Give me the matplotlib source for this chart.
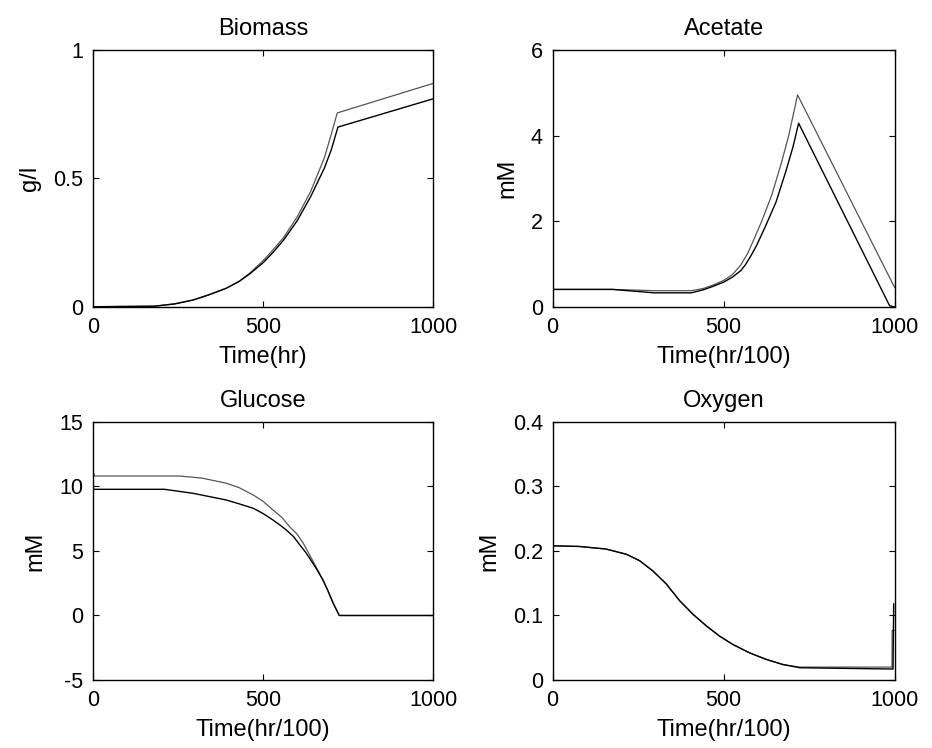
import numpy as np
import matplotlib
matplotlib.use('Agg')
import matplotlib.pyplot as plt
from matplotlib.ticker import FormatStrFormatter

# biomass (g/l)
bio_x1=[0,180,240,294,340,392,430,460,500,529,560,600,640,680,700,718,1000]
bio_y1=[0.001,0.003,0.012,0.027,0.047,0.073,0.100,0.131,0.18,0.222,0.27,0.35,0.45,0.58,0.67,0.755,0.87]
bio_x2=[0,180,240,294,340,392,430,460,500,529,560,600,640,680,700,720,1000]
bio_y2=[0.001,0.003,0.012,0.027,0.047,0.073,0.100,0.128,0.172,0.212,0.26,0.335,0.43,0.54,0.61,0.70,0.81]

# acetate (mM)
ace_x1=[0,175,297,405,440,468,500,526,550,570,584,610,640,670,690,716,1000]
ace_y1=[0.41,0.41,0.38,0.38,0.43,0.51,0.62,0.76,0.98,1.25,1.5,1.98,2.6,3.4,4.0,4.95,0.45]
ace_x2=[0,175,297,405,440,468,500,526,550,563,580,597,623,653,683,703,719,985,1000]
ace_y2=[0.41,0.41,0.33,0.33,0.40,0.48,0.58,0.70,0.85,0.98,1.2,1.45,1.9,2.45,3.2,3.75,4.29,0.03,0.0]

# glucose (mM)
glc_x1=[0,5,254,320,392,430,471,500,529,555,578,600,618,637,656,676,690,706,724,1000]
glc_y1=[11.15,10.81,10.81,10.65,10.25,9.9,9.34,8.85,8.18,7.6,6.88,6.3,5.6,4.69,3.75,2.75,1.95,0.95,0,0]
glc_x2=[0,210,294,392,430,471,500,529,550,568,590,608,625,637,656,676,690,706,724,1000]
glc_y2=[9.78,9.78,9.47,8.95,8.65,8.31,7.9,7.4,7.0,6.63,6.1,5.47,4.9,4.43,3.65,2.75,1.95,0.95,0,0]

# oxygen (mM)
oxy_x1=[0,78,156,215,254,293,332,371,410,449,488,527,576,624,673,722,992,992.5,1000]
oxy_y1=[0.208,0.207,0.203,0.195,0.185,0.169,0.149,0.123,0.102,0.084,0.068,0.055,0.042,0.032,0.024,0.020,0.020,0.077,0.077]
oxy_x2=[0,78,156,215,254,293,332,371,410,449,488,527,576,624,673,722,995,997]
oxy_y2=[0.208,0.207,0.203,0.195,0.185,0.169,0.149,0.123,0.102,0.084,0.068,0.055,0.042,0.032,0.024,0.019,0.017,0.118]

plt.rcParams['font.family']=['Liberation Sans','DejaVu Sans']
plt.rcParams['font.size']=15.5

fig=plt.figure(figsize=(9.32,7.48),dpi=100)

panels=[
    ([0.0998,0.5896,0.365,0.3436],'Biomass','g/l','Time(hr)',bio_x1,bio_y1,bio_x2,bio_y2,(0,1),[0,0.5,1]),
    ([0.593,0.5896,0.367,0.3436],'Acetate','mM','Time(hr/100)',ace_x1,ace_y1,ace_x2,ace_y2,(0,6),[0,2,4,6]),
    ([0.0998,0.0909,0.365,0.345],'Glucose','mM','Time(hr/100)',glc_x1,glc_y1,glc_x2,glc_y2,(-5,15),[-5,0,5,10,15]),
    ([0.593,0.0909,0.367,0.345],'Oxygen','mM','Time(hr/100)',oxy_x1,oxy_y1,oxy_x2,oxy_y2,(0,0.4),[0,0.1,0.2,0.3,0.4]),
]

for rect,title,ylab,xlab,x1,y1,x2,y2,ylim,yt in panels:
    ax=fig.add_axes(rect)
    ax.plot(x1,y1,color='#555555',lw=0.9)
    ax.plot(x2,y2,color='black',lw=1.0)
    ax.set_xlim(0,1000)
    ax.set_ylim(*ylim)
    ax.set_xticks([0,500,1000])
    ax.set_yticks(yt)
    ax.yaxis.set_major_formatter(FormatStrFormatter('%g'))
    ax.tick_params(direction='in',length=4,width=0.8,top=True,right=True,pad=7)
    for s in ax.spines.values():
        s.set_linewidth(1.0)
    ax.set_title(title,fontsize=17,pad=11)
    ax.set_ylabel(ylab,fontsize=17,labelpad=9)
    ax.set_xlabel(xlab,fontsize=17,labelpad=6)

fig.savefig('out.png',dpi=100)
